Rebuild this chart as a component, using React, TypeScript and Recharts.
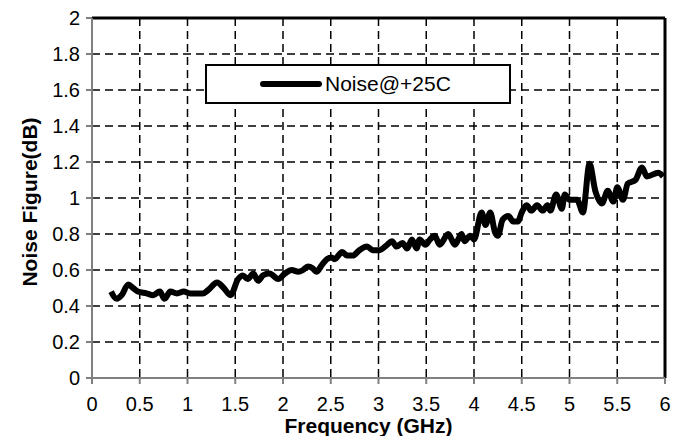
import React from "react";
import {
  LineChart,
  Line,
  XAxis,
  YAxis,
  CartesianGrid,
  ReferenceLine,
} from "recharts";

const frequencyGHz = [
  0.2, 0.26, 0.31, 0.38, 0.43, 0.48, 0.57, 0.64, 0.71, 0.76, 0.82, 0.89, 0.96,
  1.03, 1.1, 1.16, 1.22, 1.31, 1.38, 1.45, 1.53, 1.58, 1.63, 1.69, 1.74, 1.79,
  1.86, 1.95, 2.02, 2.09, 2.16, 2.21, 2.26, 2.31, 2.35, 2.41, 2.46, 2.51, 2.54,
  2.62, 2.67, 2.73, 2.8, 2.88, 2.94, 3.01, 3.09, 3.14, 3.19, 3.25, 3.3, 3.35,
  3.4, 3.43, 3.49, 3.54, 3.59, 3.64, 3.73, 3.8, 3.87, 3.9, 3.96, 4.0, 4.08,
  4.12, 4.17, 4.22, 4.25, 4.3, 4.36, 4.41, 4.46, 4.5, 4.55, 4.6, 4.66, 4.72,
  4.77, 4.8, 4.86, 4.92, 4.95, 5.0, 5.08, 5.14, 5.21, 5.27, 5.34, 5.4, 5.46,
  5.5, 5.56, 5.61, 5.69, 5.76, 5.81, 5.93, 5.98,
];

const noise25C = [
  0.48, 0.44, 0.46, 0.52, 0.5, 0.48, 0.47, 0.46, 0.48, 0.44, 0.48, 0.47, 0.48,
  0.47, 0.47, 0.47, 0.49, 0.53, 0.5, 0.46, 0.55, 0.57, 0.55, 0.58, 0.54, 0.57,
  0.58, 0.55, 0.58, 0.6, 0.59, 0.6, 0.62, 0.61, 0.59, 0.63, 0.66, 0.67, 0.66,
  0.7, 0.68, 0.68, 0.71, 0.73, 0.71, 0.71, 0.74, 0.76, 0.73, 0.75, 0.72, 0.77,
  0.72, 0.77, 0.74, 0.77, 0.79, 0.74, 0.8, 0.74, 0.8, 0.76, 0.79, 0.77, 0.92,
  0.85, 0.92, 0.81, 0.79, 0.88, 0.9, 0.87, 0.87, 0.92, 0.96, 0.93, 0.96, 0.93,
  0.96, 0.93, 1.02, 0.94, 1.02, 0.99, 0.99, 0.92, 1.19, 1.04, 0.97, 1.04, 0.98,
  1.06, 0.99, 1.08, 1.1, 1.17, 1.12, 1.14, 1.12,
];

const xTicks = [0, 0.5, 1, 1.5, 2, 2.5, 3, 3.5, 4, 4.5, 5, 5.5, 6];
const yTicks = [0, 0.2, 0.4, 0.6, 0.8, 1, 1.2, 1.4, 1.6, 1.8, 2];
const seriesName = "Noise@+25C";

const data = frequencyGHz.map((f, i) => ({ f, nf: noise25C[i] }));

const FONT = "'Liberation Sans', Arial, sans-serif";

const LegendBox = () => (
  <div
    style={{
      position: "absolute",
      left: 205,
      top: 64,
      width: 306,
      height: 40,
      boxSizing: "border-box",
      border: "2px solid #000",
      background: "#fff",
      fontFamily: FONT,
    }}
  >
    <svg width={70} height={36} style={{ position: "absolute", left: 50, top: 0 }}>
      <line x1={6} y1={18} x2={62} y2={18} stroke="#000" strokeWidth={6} strokeLinecap="round" />
    </svg>
    <span
      style={{
        position: "absolute",
        left: 118,
        top: 6,
        fontSize: 21,
        lineHeight: "24px",
        color: "#000",
      }}
    >
      {seriesName}
    </span>
  </div>
);

export default function App() {
  return (
    <div style={{ position: "absolute", left: 0, top: 0, width: 684, height: 436, background: "#fff" }}>
      <LineChart
        width={684}
        height={436}
        data={data}
        margin={{ top: 18, right: 19, left: 0, bottom: 0 }}
        style={{ fontFamily: FONT }}
      >
        <CartesianGrid stroke="#000" strokeWidth={1.5} strokeDasharray="8 5" horizontalValues={yTicks} verticalValues={xTicks} />
        <XAxis
          dataKey="f"
          type="number"
          domain={[0, 6]}
          ticks={xTicks}
          height={58}
          stroke="#808080"
          strokeWidth={2}
          tickSize={6}
          tickMargin={13}
          tick={{ fill: "#000", fontSize: 20, fontFamily: FONT }}
          label={{
            value: "Frequency (GHz)",
            position: "insideBottom",
            offset: 3,
            dx: -10,
            style: { fill: "#000", fontSize: 21, fontWeight: "bold", fontFamily: FONT },
          }}
        />
        <YAxis
          type="number"
          domain={[0, 2]}
          ticks={yTicks}
          width={92}
          stroke="#808080"
          strokeWidth={2}
          tickSize={6}
          tickMargin={6}
          tick={{ fill: "#000", fontSize: 20, fontFamily: FONT }}
          label={{
            value: "Noise Figure(dB)",
            angle: -90,
            position: "insideLeft",
            offset: 30,
            dy: 4,
            style: { fill: "#000", fontSize: 21, fontWeight: "bold", fontFamily: FONT, textAnchor: "middle" },
          }}
        />
        <ReferenceLine y={2} stroke="#000" strokeWidth={3} />
        <ReferenceLine x={6} stroke="#000" strokeWidth={3} />
        <Line
          type="monotone"
          dataKey="nf"
          name={seriesName}
          stroke="#000"
          strokeWidth={6}
          dot={false}
          isAnimationActive={false}
        />
      </LineChart>
      <LegendBox />
    </div>
  );
}
